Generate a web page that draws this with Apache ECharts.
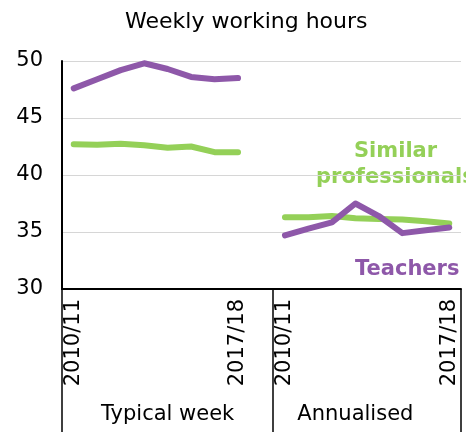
<!DOCTYPE html>
<html>
<head>
<meta charset="utf-8">
<script src="https://cdn.jsdelivr.net/npm/echarts@6/dist/echarts.min.js"></script>
<style>
  html, body { margin: 0; padding: 0; background: #fff; }
  #chart { width: 466px; height: 432px; }
</style>
</head>
<body>
<div id="chart"></div>
<script>
// years per panel, a blank slot separates the two panels
const years = ['2010/11', '2011/12', '2012/13', '2013/14', '2014/15', '2015/16', '2016/17', '2017/18']
const groups = ['Typical week', 'Annualised']

// values
const teachersWeek = [47.6, 48.4, 49.2, 49.8, 49.3, 48.6, 48.4, 48.5]
const teachersYear = [34.7, 35.3, 35.85, 37.5, 36.4, 34.9, 35.15, 35.4]
const similarWeek = [42.7, 42.65, 42.75, 42.6, 42.4, 42.5, 42.0, 42.0]
const similarYear = [36.3, 36.3, 36.4, 36.2, 36.15, 36.1, 35.95, 35.75]

const yTicks = { min: 30, max: 50, step: 5 }

const FONT = 'DejaVu Sans'
const PURPLE = '#8e58a9'
const GREEN = '#94d058'

// category list: 8 years + blank + 8 years
const cats = years.concat(['']).concat(years)
const teachers = teachersWeek.concat([null]).concat(teachersYear)
const similar = similarWeek.concat([null]).concat(similarYear)

// which category index shows a label
const yearLabelIdx = [0, years.length - 1, years.length + 1, cats.length - 1]
const groupLabelIdx = { 4: groups[0], 12: groups[1] }

const chart = echarts.init(document.getElementById('chart'))

chart.setOption({
  animation: false,
  title: {
    text: 'Weekly working hours',
    left: 120,
    top: 6,
    textStyle: { fontFamily: FONT, fontSize: 22, fontWeight: 'normal', color: '#000' }
  },
  grid: { left: 62, right: 5, top: 61, bottom: 143 },
  xAxis: [
    {
      type: 'category',
      data: cats,
      boundaryGap: true,
      axisLine: { lineStyle: { color: '#000', width: 2 } },
      axisTick: {
        show: true,
        length: 145,
        interval: (i) => i === 0 || i === years.length + 1,
        lineStyle: { color: '#000', width: 1.5 }
      },
      axisLabel: {
        rotate: 90,
        interval: (i) => yearLabelIdx.includes(i),
        margin: 10,
        fontFamily: FONT,
        fontSize: 21,
        color: '#000'
      }
    },
    {
      type: 'category',
      data: cats,
      position: 'bottom',
      offset: 107,
      boundaryGap: true,
      axisLine: { show: false },
      axisTick: { show: false },
      axisLabel: {
        interval: (i) => groupLabelIdx[i] !== undefined,
        formatter: (v, i) => groupLabelIdx[i] || '',
        fontFamily: FONT,
        fontSize: 21,
        color: '#000'
      }
    }
  ],
  yAxis: {
    type: 'value',
    min: yTicks.min,
    max: yTicks.max,
    interval: yTicks.step,
    axisLine: { show: true, lineStyle: { color: '#000', width: 2 } },
    axisTick: { show: false },
    axisLabel: { fontFamily: FONT, fontSize: 21, color: '#000', margin: 19 },
    splitLine: { lineStyle: { color: '#d6d6d6', width: 1.2 } }
  },
  series: [
    {
      name: 'Similar professionals',
      type: 'line',
      data: similar,
      symbol: 'none',
      connectNulls: false,
      lineStyle: { color: GREEN, width: 6, cap: 'round', join: 'round' }
    },
    {
      name: 'Teachers',
      type: 'line',
      data: teachers,
      symbol: 'none',
      connectNulls: false,
      lineStyle: { color: PURPLE, width: 6, cap: 'round', join: 'round' }
    }
  ],
  graphic: [
    {
      type: 'text',
      left: 354,
      top: 141,
      style: { text: 'Similar', fontFamily: FONT, fontSize: 21, fontWeight: 'bold', fill: GREEN }
    },
    {
      type: 'text',
      left: 316,
      top: 167,
      style: { text: 'professionals', fontFamily: FONT, fontSize: 21, fontWeight: 'bold', fill: GREEN }
    },
    {
      type: 'text',
      left: 355,
      top: 259,
      style: { text: 'Teachers', fontFamily: FONT, fontSize: 21, fontWeight: 'bold', fill: PURPLE }
    }
  ]
})
</script>
</body>
</html>
